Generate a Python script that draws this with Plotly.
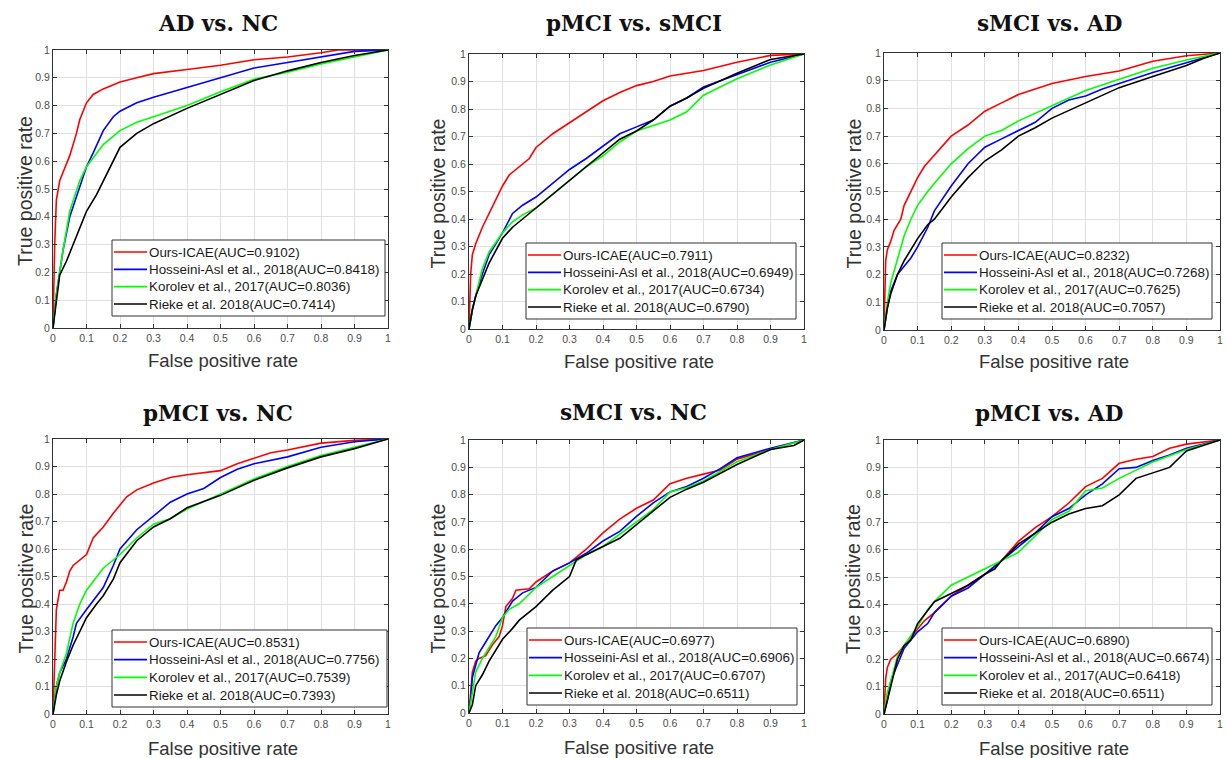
import plotly.graph_objects as go

# ---------------- data ----------------
titles = ["AD vs. NC", "pMCI vs. sMCI", "sMCI vs. AD", "pMCI vs. NC", "sMCI vs. NC", "pMCI vs. AD"]
methods = ["Ours-ICAE", "Hosseini-Asl et al., 2018", "Korolev et al., 2017", "Rieke et al. 2018"]
colors = ["#ff0000", "#0000ff", "#00ff00", "#000000"]
tick_vals = [0, 0.1, 0.2, 0.3, 0.4, 0.5, 0.6, 0.7, 0.8, 0.9, 1]
tick_text = ["0", "0.1", "0.2", "0.3", "0.4", "0.5", "0.6", "0.7", "0.8", "0.9", "1"]

auc_adnc = ["0.9102", "0.8418", "0.8036", "0.7414"]
auc_psmci = ["0.7911", "0.6949", "0.6734", "0.6790"]
auc_smciad = ["0.8232", "0.7268", "0.7625", "0.7057"]
auc_pmcinc = ["0.8531", "0.7756", "0.7539", "0.7393"]
auc_smcinc = ["0.6977", "0.6906", "0.6707", "0.6511"]
auc_pmciad = ["0.6890", "0.6674", "0.6418", "0.6511"]

# AD vs. NC
adnc_ours_x = [0, 0.005, 0.01, 0.02, 0.03, 0.05, 0.07, 0.08, 0.1, 0.12, 0.15, 0.2, 0.25, 0.3, 0.4, 0.5, 0.6, 0.7, 0.8, 0.85, 1]
adnc_ours_y = [0, 0.30, 0.46, 0.53, 0.56, 0.62, 0.70, 0.75, 0.81, 0.84, 0.86, 0.885, 0.90, 0.915, 0.93, 0.945, 0.965, 0.975, 0.99, 1.0, 1]
adnc_hoss_x = [0, 0.01, 0.02, 0.03, 0.05, 0.07, 0.1, 0.12, 0.15, 0.18, 0.2, 0.25, 0.3, 0.4, 0.5, 0.6, 0.7, 0.8, 0.9, 1]
adnc_hoss_y = [0, 0.12, 0.20, 0.28, 0.40, 0.47, 0.58, 0.63, 0.71, 0.76, 0.78, 0.81, 0.83, 0.865, 0.90, 0.935, 0.955, 0.975, 0.995, 1]
adnc_koro_x = [0, 0.01, 0.02, 0.03, 0.05, 0.08, 0.1, 0.15, 0.2, 0.25, 0.3, 0.4, 0.5, 0.6, 0.7, 0.8, 0.9, 1]
adnc_koro_y = [0, 0.12, 0.20, 0.28, 0.42, 0.53, 0.58, 0.66, 0.71, 0.74, 0.76, 0.80, 0.85, 0.895, 0.92, 0.95, 0.975, 1]
adnc_riek_x = [0, 0.01, 0.02, 0.04, 0.06, 0.08, 0.1, 0.13, 0.15, 0.18, 0.2, 0.25, 0.3, 0.4, 0.5, 0.6, 0.7, 0.8, 0.9, 1]
adnc_riek_y = [0, 0.10, 0.19, 0.24, 0.30, 0.36, 0.42, 0.48, 0.53, 0.60, 0.65, 0.70, 0.735, 0.79, 0.84, 0.89, 0.925, 0.955, 0.98, 1]

# pMCI vs. sMCI
psmci_ours_x = [0, 0.005, 0.01, 0.02, 0.04, 0.06, 0.08, 0.1, 0.12, 0.15, 0.18, 0.2, 0.25, 0.3, 0.35, 0.4, 0.45, 0.5, 0.55, 0.6, 0.7, 0.8, 0.9, 1]
psmci_ours_y = [0, 0.20, 0.27, 0.31, 0.37, 0.42, 0.47, 0.52, 0.56, 0.59, 0.62, 0.66, 0.71, 0.75, 0.79, 0.83, 0.86, 0.885, 0.90, 0.92, 0.94, 0.97, 0.995, 1]
psmci_hoss_x = [0, 0.01, 0.02, 0.04, 0.06, 0.1, 0.13, 0.16, 0.2, 0.25, 0.3, 0.35, 0.4, 0.45, 0.5, 0.55, 0.6, 0.65, 0.7, 0.8, 0.9, 1]
psmci_hoss_y = [0, 0.07, 0.12, 0.20, 0.27, 0.35, 0.42, 0.45, 0.48, 0.53, 0.58, 0.62, 0.665, 0.71, 0.735, 0.76, 0.81, 0.84, 0.88, 0.925, 0.97, 1]
psmci_koro_x = [0, 0.01, 0.02, 0.04, 0.06, 0.1, 0.13, 0.16, 0.2, 0.25, 0.3, 0.35, 0.4, 0.45, 0.5, 0.55, 0.6, 0.65, 0.7, 0.8, 0.9, 1]
psmci_koro_y = [0, 0.07, 0.12, 0.22, 0.28, 0.35, 0.39, 0.415, 0.44, 0.49, 0.54, 0.59, 0.63, 0.68, 0.72, 0.74, 0.76, 0.79, 0.85, 0.91, 0.96, 1]
psmci_riek_x = [0, 0.01, 0.02, 0.04, 0.06, 0.1, 0.13, 0.16, 0.2, 0.25, 0.3, 0.35, 0.4, 0.45, 0.5, 0.55, 0.6, 0.65, 0.7, 0.8, 0.9, 1]
psmci_riek_y = [0, 0.07, 0.12, 0.18, 0.24, 0.33, 0.37, 0.40, 0.44, 0.49, 0.54, 0.59, 0.64, 0.69, 0.72, 0.76, 0.81, 0.84, 0.875, 0.93, 0.98, 1]

# sMCI vs. AD
smciad_ours_x = [0, 0.005, 0.01, 0.02, 0.03, 0.05, 0.06, 0.08, 0.1, 0.12, 0.15, 0.18, 0.2, 0.25, 0.3, 0.35, 0.4, 0.45, 0.5, 0.6, 0.7, 0.8, 0.9, 1]
smciad_ours_y = [0, 0.25, 0.29, 0.32, 0.36, 0.40, 0.45, 0.50, 0.55, 0.59, 0.63, 0.67, 0.70, 0.74, 0.79, 0.82, 0.85, 0.87, 0.89, 0.915, 0.935, 0.97, 0.99, 1]
smciad_hoss_x = [0, 0.01, 0.02, 0.04, 0.06, 0.08, 0.1, 0.13, 0.15, 0.2, 0.25, 0.3, 0.35, 0.4, 0.45, 0.5, 0.55, 0.6, 0.65, 0.7, 0.8, 0.9, 1]
smciad_hoss_y = [0, 0.08, 0.14, 0.20, 0.23, 0.26, 0.30, 0.37, 0.43, 0.52, 0.60, 0.66, 0.69, 0.72, 0.75, 0.80, 0.83, 0.845, 0.87, 0.89, 0.93, 0.965, 1]
smciad_koro_x = [0, 0.01, 0.02, 0.04, 0.06, 0.08, 0.1, 0.13, 0.15, 0.2, 0.25, 0.3, 0.35, 0.4, 0.5, 0.6, 0.7, 0.8, 0.9, 1]
smciad_koro_y = [0, 0.10, 0.17, 0.26, 0.34, 0.40, 0.45, 0.50, 0.53, 0.60, 0.655, 0.70, 0.72, 0.755, 0.81, 0.865, 0.905, 0.945, 0.975, 1]
smciad_riek_x = [0, 0.01, 0.02, 0.04, 0.06, 0.08, 0.1, 0.13, 0.15, 0.2, 0.25, 0.3, 0.35, 0.4, 0.45, 0.5, 0.6, 0.7, 0.8, 0.9, 0.95, 1]
smciad_riek_y = [0, 0.08, 0.13, 0.20, 0.25, 0.29, 0.33, 0.38, 0.40, 0.48, 0.55, 0.61, 0.65, 0.70, 0.73, 0.765, 0.82, 0.875, 0.915, 0.955, 0.98, 1]

# pMCI vs. NC
pmcinc_ours_x = [0, 0.005, 0.01, 0.02, 0.03, 0.04, 0.05, 0.06, 0.08, 0.1, 0.12, 0.15, 0.18, 0.2, 0.22, 0.25, 0.3, 0.35, 0.4, 0.5, 0.55, 0.6, 0.65, 0.7, 0.8, 0.9, 1]
pmcinc_ours_y = [0, 0.20, 0.38, 0.45, 0.45, 0.48, 0.52, 0.54, 0.56, 0.58, 0.64, 0.68, 0.73, 0.76, 0.79, 0.815, 0.84, 0.86, 0.87, 0.885, 0.91, 0.93, 0.95, 0.96, 0.985, 0.995, 1]
pmcinc_hoss_x = [0, 0.01, 0.02, 0.04, 0.06, 0.07, 0.1, 0.13, 0.15, 0.18, 0.2, 0.25, 0.3, 0.35, 0.4, 0.45, 0.5, 0.55, 0.6, 0.7, 0.8, 0.9, 1]
pmcinc_hoss_y = [0, 0.10, 0.15, 0.20, 0.28, 0.33, 0.38, 0.43, 0.46, 0.54, 0.60, 0.67, 0.72, 0.77, 0.80, 0.82, 0.86, 0.89, 0.91, 0.935, 0.97, 0.99, 1]
pmcinc_koro_x = [0, 0.01, 0.02, 0.04, 0.06, 0.08, 0.1, 0.13, 0.15, 0.2, 0.25, 0.3, 0.35, 0.4, 0.5, 0.6, 0.7, 0.8, 0.9, 1]
pmcinc_koro_y = [0, 0.10, 0.15, 0.22, 0.33, 0.40, 0.45, 0.50, 0.53, 0.58, 0.64, 0.69, 0.71, 0.745, 0.80, 0.855, 0.90, 0.94, 0.97, 1]
pmcinc_riek_x = [0, 0.01, 0.02, 0.04, 0.06, 0.08, 0.1, 0.13, 0.15, 0.18, 0.2, 0.25, 0.3, 0.35, 0.4, 0.5, 0.6, 0.7, 0.8, 0.9, 1]
pmcinc_riek_y = [0, 0.07, 0.12, 0.19, 0.25, 0.30, 0.35, 0.40, 0.43, 0.49, 0.55, 0.63, 0.68, 0.71, 0.75, 0.795, 0.85, 0.895, 0.935, 0.965, 1]

# sMCI vs. NC
smcinc_ours_x = [0, 0.005, 0.01, 0.02, 0.03, 0.05, 0.07, 0.09, 0.1, 0.11, 0.13, 0.14, 0.18, 0.2, 0.25, 0.3, 0.35, 0.4, 0.45, 0.5, 0.55, 0.6, 0.65, 0.7, 0.75, 0.8, 0.9, 1]
smcinc_ours_y = [0, 0.08, 0.15, 0.19, 0.20, 0.21, 0.25, 0.28, 0.32, 0.39, 0.42, 0.45, 0.455, 0.48, 0.52, 0.55, 0.60, 0.66, 0.71, 0.75, 0.78, 0.84, 0.86, 0.875, 0.89, 0.93, 0.965, 1]
smcinc_hoss_x = [0, 0.005, 0.01, 0.02, 0.03, 0.05, 0.08, 0.1, 0.13, 0.16, 0.2, 0.25, 0.3, 0.35, 0.4, 0.45, 0.5, 0.55, 0.6, 0.65, 0.7, 0.75, 0.8, 0.9, 1]
smcinc_hoss_y = [0, 0.05, 0.13, 0.18, 0.22, 0.26, 0.32, 0.35, 0.41, 0.44, 0.46, 0.52, 0.55, 0.585, 0.63, 0.665, 0.72, 0.77, 0.81, 0.83, 0.86, 0.895, 0.935, 0.97, 1]
smcinc_koro_x = [0, 0.01, 0.02, 0.04, 0.06, 0.08, 0.1, 0.12, 0.15, 0.2, 0.25, 0.3, 0.35, 0.4, 0.45, 0.5, 0.55, 0.6, 0.65, 0.7, 0.8, 0.9, 1]
smcinc_koro_y = [0, 0.08, 0.15, 0.20, 0.24, 0.28, 0.35, 0.38, 0.40, 0.46, 0.50, 0.54, 0.58, 0.61, 0.655, 0.70, 0.745, 0.81, 0.825, 0.85, 0.92, 0.965, 1]
smcinc_riek_x = [0, 0.01, 0.02, 0.04, 0.06, 0.08, 0.1, 0.13, 0.15, 0.2, 0.25, 0.3, 0.32, 0.35, 0.4, 0.45, 0.5, 0.55, 0.6, 0.65, 0.7, 0.8, 0.9, 0.97, 1]
smcinc_riek_y = [0, 0.03, 0.10, 0.14, 0.19, 0.23, 0.27, 0.31, 0.34, 0.39, 0.45, 0.50, 0.56, 0.58, 0.61, 0.64, 0.69, 0.74, 0.79, 0.82, 0.845, 0.91, 0.965, 0.98, 1]

# pMCI vs. AD
pmciad_ours_x = [0, 0.005, 0.01, 0.02, 0.04, 0.06, 0.08, 0.1, 0.12, 0.15, 0.2, 0.25, 0.3, 0.35, 0.4, 0.45, 0.5, 0.55, 0.6, 0.65, 0.7, 0.75, 0.8, 0.85, 0.9, 1]
pmciad_ours_y = [0, 0.13, 0.17, 0.20, 0.22, 0.25, 0.28, 0.31, 0.34, 0.37, 0.43, 0.47, 0.51, 0.56, 0.63, 0.68, 0.72, 0.77, 0.83, 0.86, 0.915, 0.93, 0.94, 0.97, 0.985, 1]
pmciad_hoss_x = [0, 0.01, 0.02, 0.04, 0.06, 0.08, 0.1, 0.13, 0.15, 0.2, 0.25, 0.3, 0.35, 0.4, 0.45, 0.5, 0.55, 0.6, 0.65, 0.7, 0.75, 0.8, 0.85, 0.9, 1]
pmciad_hoss_y = [0, 0.05, 0.12, 0.18, 0.24, 0.27, 0.30, 0.33, 0.37, 0.43, 0.46, 0.51, 0.56, 0.61, 0.66, 0.72, 0.75, 0.80, 0.84, 0.895, 0.90, 0.925, 0.945, 0.97, 1]
pmciad_koro_x = [0, 0.01, 0.02, 0.04, 0.06, 0.1, 0.13, 0.15, 0.2, 0.25, 0.3, 0.35, 0.4, 0.45, 0.5, 0.55, 0.6, 0.65, 0.7, 0.75, 0.8, 0.9, 1]
pmciad_koro_y = [0, 0.08, 0.12, 0.21, 0.25, 0.32, 0.38, 0.41, 0.47, 0.50, 0.53, 0.56, 0.59, 0.65, 0.71, 0.74, 0.815, 0.825, 0.86, 0.89, 0.92, 0.965, 1]
pmciad_riek_x = [0, 0.01, 0.02, 0.04, 0.06, 0.08, 0.1, 0.13, 0.15, 0.2, 0.25, 0.3, 0.33, 0.35, 0.4, 0.45, 0.5, 0.55, 0.6, 0.65, 0.7, 0.75, 0.8, 0.85, 0.9, 0.95, 1]
pmciad_riek_y = [0, 0.05, 0.10, 0.20, 0.25, 0.27, 0.33, 0.38, 0.41, 0.44, 0.47, 0.51, 0.53, 0.56, 0.62, 0.66, 0.70, 0.73, 0.75, 0.76, 0.80, 0.86, 0.88, 0.90, 0.96, 0.98, 1]

panels = [
    (auc_adnc, [(adnc_ours_x, adnc_ours_y), (adnc_hoss_x, adnc_hoss_y), (adnc_koro_x, adnc_koro_y), (adnc_riek_x, adnc_riek_y)]),
    (auc_psmci, [(psmci_ours_x, psmci_ours_y), (psmci_hoss_x, psmci_hoss_y), (psmci_koro_x, psmci_koro_y), (psmci_riek_x, psmci_riek_y)]),
    (auc_smciad, [(smciad_ours_x, smciad_ours_y), (smciad_hoss_x, smciad_hoss_y), (smciad_koro_x, smciad_koro_y), (smciad_riek_x, smciad_riek_y)]),
    (auc_pmcinc, [(pmcinc_ours_x, pmcinc_ours_y), (pmcinc_hoss_x, pmcinc_hoss_y), (pmcinc_koro_x, pmcinc_koro_y), (pmcinc_riek_x, pmcinc_riek_y)]),
    (auc_smcinc, [(smcinc_ours_x, smcinc_ours_y), (smcinc_hoss_x, smcinc_hoss_y), (smcinc_koro_x, smcinc_koro_y), (smcinc_riek_x, smcinc_riek_y)]),
    (auc_pmciad, [(pmciad_ours_x, pmciad_ours_y), (pmciad_hoss_x, pmciad_hoss_y), (pmciad_koro_x, pmciad_koro_y), (pmciad_riek_x, pmciad_riek_y)]),
]

# ---------------- layout (pixels) ----------------
W, H = 1230, 758
boxes = [(53, 388, 50, 328), (469, 804, 54, 329), (884, 1220, 53, 330),
         (53, 388, 439, 714), (469, 804, 440, 713), (884, 1220, 440, 714)]
# legend boxes: left, top, right, bottom
legend_box = [(112, 240, 385, 316), (526, 243, 796, 319), (942, 243, 1212, 319),
              (112, 630, 387, 707), (527, 628, 797, 705), (942, 628, 1212, 705)]
title_y = [23, 23, 23, 413, 412, 413]
xlab_y = [360, 362, 362, 748, 747, 748]
ylab_x = [25, 437, 853, 25, 437, 853]

def px(x):
    return x / W

def py(y):
    return 1 - y / H

sans = "Liberation Sans, Arial, sans-serif"
fig = go.Figure()
annotations = []
shapes = []
layout = dict(template="none", width=W, height=H,
              margin=dict(l=0, r=0, t=0, b=0, autoexpand=False),
              paper_bgcolor="white", plot_bgcolor="white", showlegend=False)

for i, (aucs, curves) in enumerate(panels):
    k = i + 1
    sfx = "" if k == 1 else str(k)
    for j, (xs, ys) in enumerate(curves):
        fig.add_trace(go.Scatter(
            x=xs, y=ys, mode="lines",
            line=dict(color=colors[j], width=1.6),
            name=f"{methods[j]}(AUC={aucs[j]})",
            xaxis=f"x{sfx}", yaxis=f"y{sfx}", showlegend=False))
    l, r, t, b = boxes[i]
    axcommon = dict(range=[0, 1], tickvals=tick_vals, ticktext=tick_text,
                    showgrid=True, gridcolor="#e0e0e0", gridwidth=1,
                    showline=True, linecolor="#333333", linewidth=1, mirror="ticks",
                    ticks="inside", ticklen=4, tickcolor="#333333",
                    tickfont=dict(family=sans, size=10.5, color="#4d4d4d"),
                    zeroline=False, fixedrange=True, automargin=False,
                    ticklabeloverflow="allow")
    layout[f"xaxis{sfx}"] = dict(domain=[px(l), px(r)], anchor=f"y{sfx}", **axcommon)
    layout[f"yaxis{sfx}"] = dict(domain=[py(b), py(t)], anchor=f"x{sfx}", **axcommon)

    # legend box drawn inside each panel
    bl, bt, br, bb = legend_box[i]
    shapes.append(dict(type="rect", xref="paper", yref="paper",
                       x0=px(bl), x1=px(br), y0=py(bb), y1=py(bt),
                       line=dict(color="#333333", width=1), fillcolor="white", layer="above"))
    step = (bb - bt - 24) / 3.0
    for j in range(4):
        ry = bt + 12 + j * step
        shapes.append(dict(type="line", xref="paper", yref="paper",
                           x0=px(bl + 2), x1=px(bl + 35), y0=py(ry), y1=py(ry),
                           line=dict(color=colors[j], width=1.6), layer="above"))
        annotations.append(dict(text=f"{methods[j]}(AUC={aucs[j]})",
                                x=px(bl + 35), y=py(ry), xref="paper", yref="paper",
                                showarrow=False, xanchor="left", yanchor="middle",
                                font=dict(family=sans, size=13.4, color="#1a1a1a")))

    cx = (l + r) / 2
    annotations += [
        dict(text=f"<b>{titles[i]}</b>", x=px(cx - 3), y=py(title_y[i]), xref="paper", yref="paper",
             showarrow=False, xanchor="center", yanchor="middle",
             font=dict(family="DejaVu Serif, serif", size=21.5, color="#111111")),
        dict(text="False positive rate", x=px(cx + 2), y=py(xlab_y[i]), xref="paper", yref="paper",
             showarrow=False, xanchor="center", yanchor="middle",
             font=dict(family=sans, size=18.5, color="#333333")),
        dict(text="True positive rate", x=px(ylab_x[i]), y=py((t + b) / 2 + 2), xref="paper", yref="paper",
             showarrow=False, xanchor="center", yanchor="middle", textangle=-90,
             font=dict(family=sans, size=19.5, color="#333333")),
    ]

layout["annotations"] = annotations
layout["shapes"] = shapes
fig.update_layout(**layout)
fig.write_html("out.html", config={"displayModeBar": False},
               post_script="document.body.style.margin='0';document.body.style.padding='0';")
